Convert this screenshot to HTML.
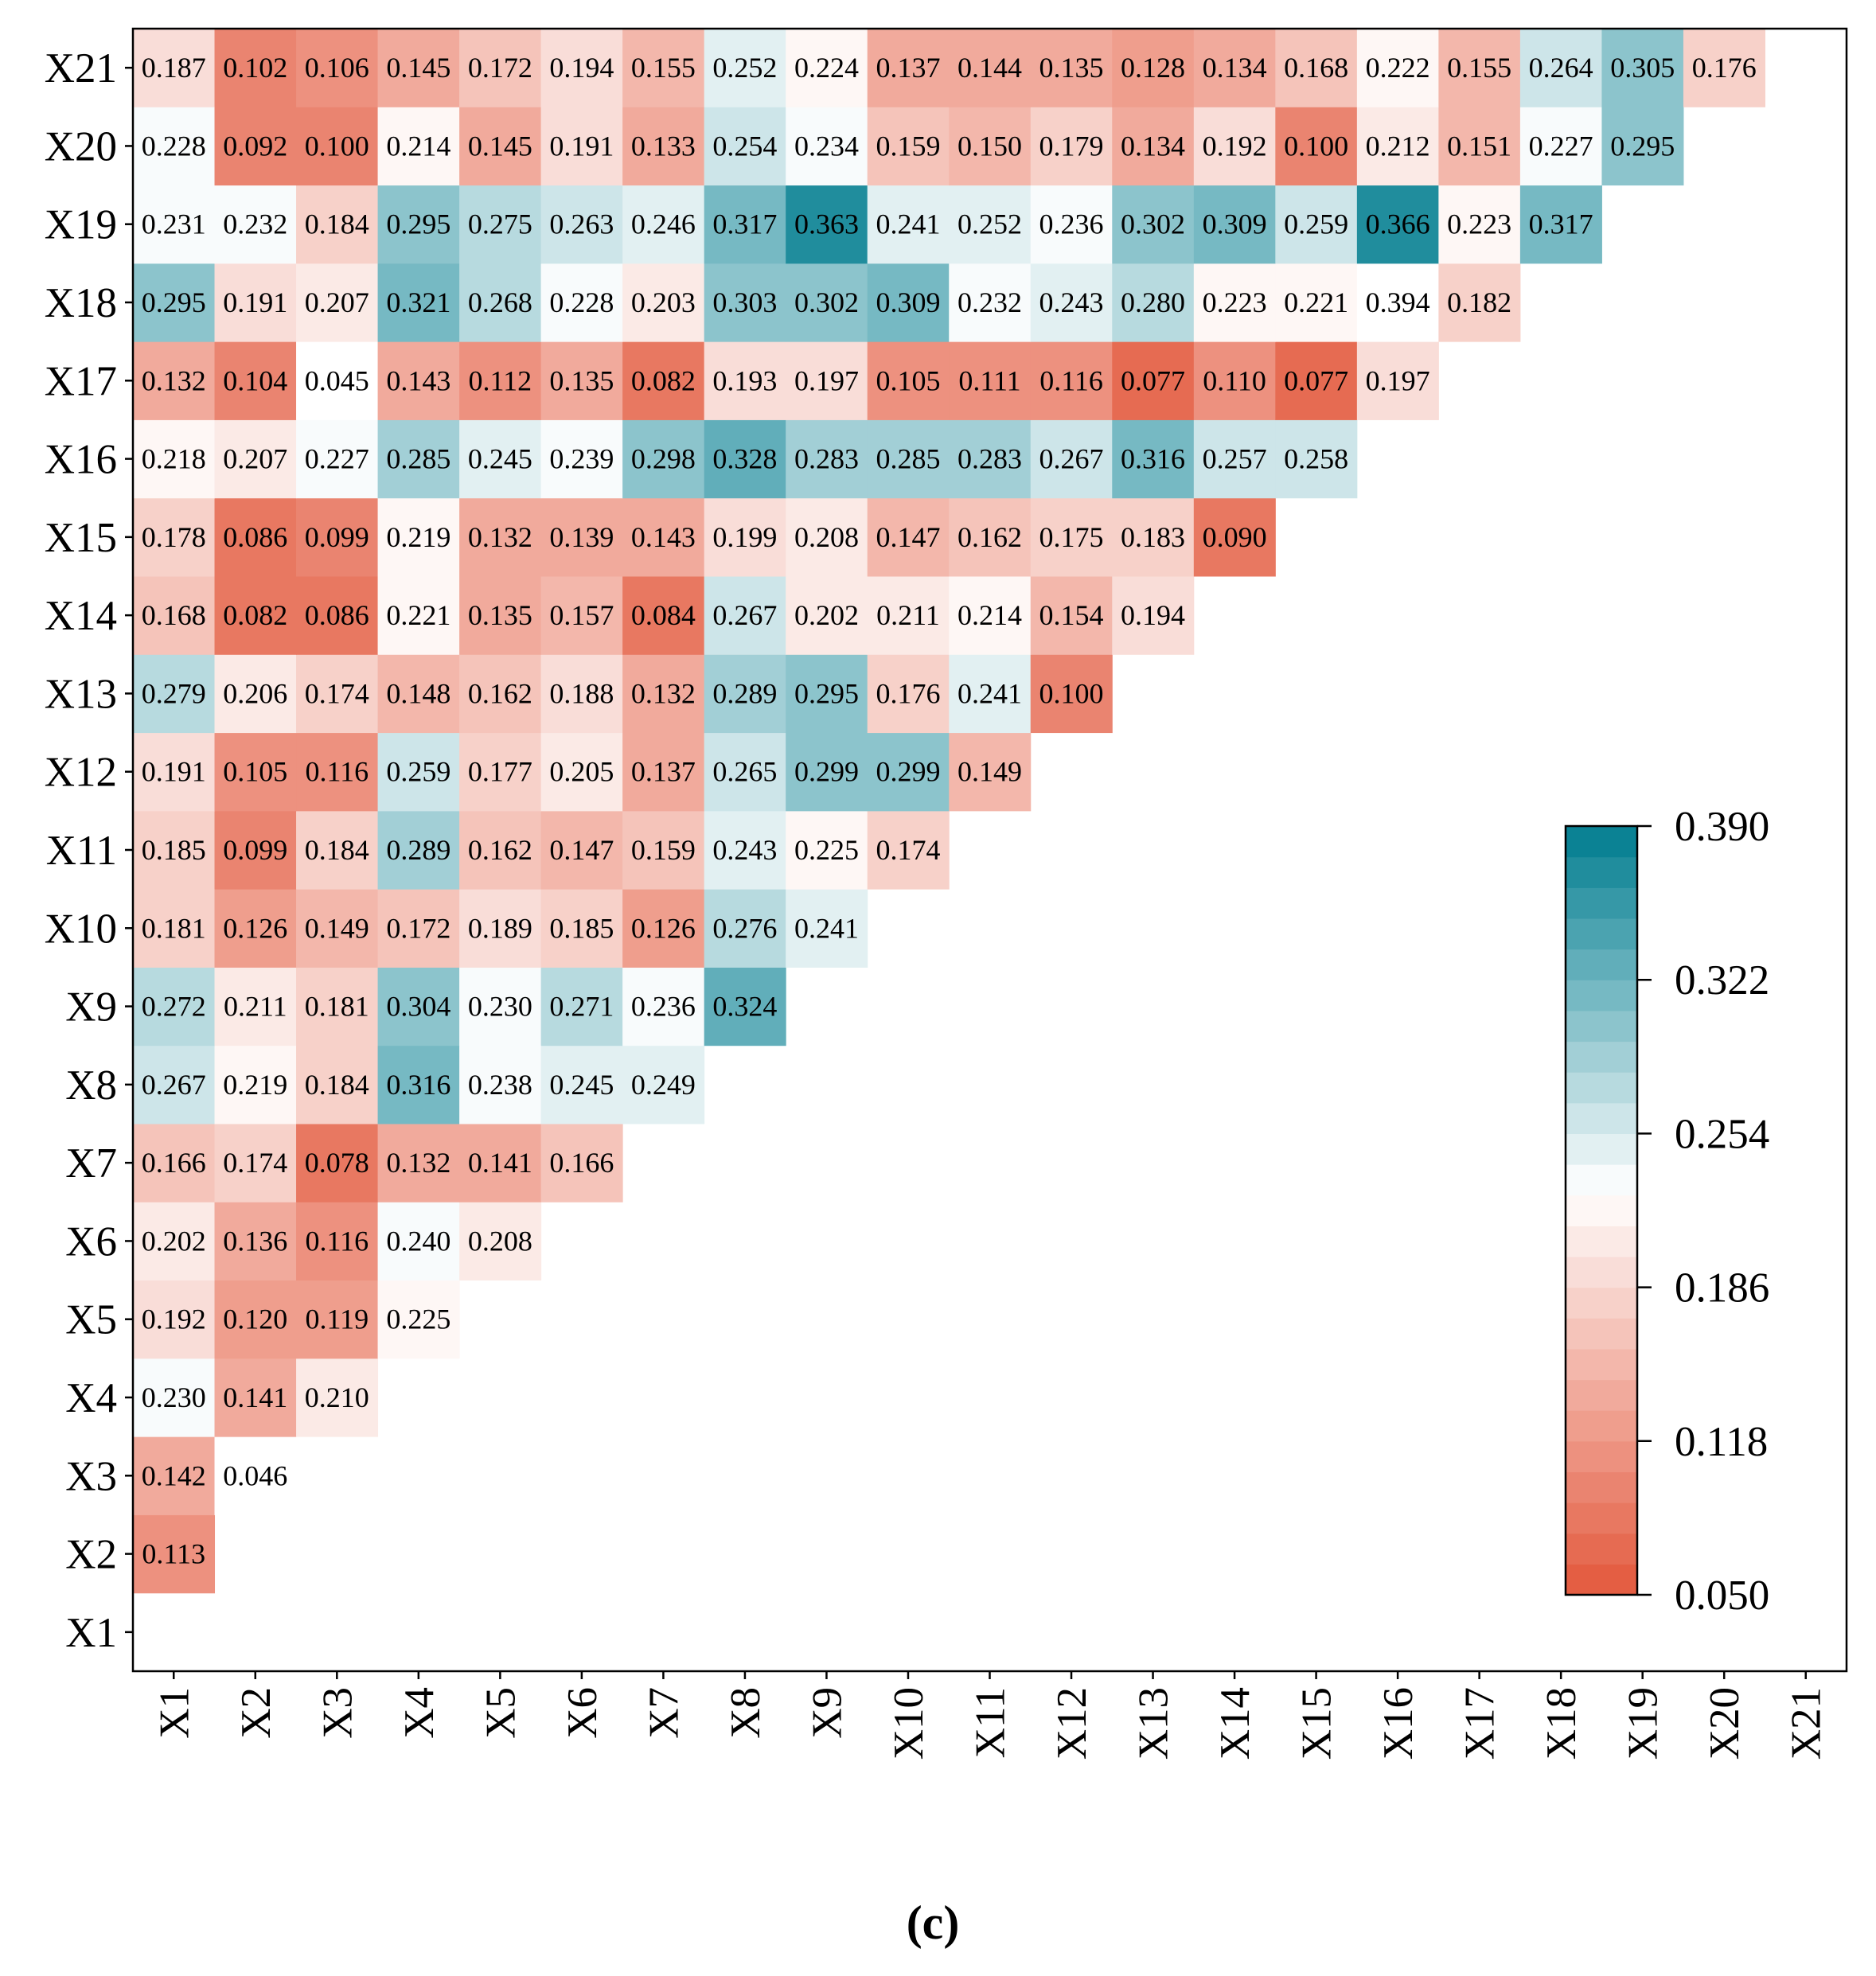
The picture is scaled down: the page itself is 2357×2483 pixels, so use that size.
<!DOCTYPE html>
<html><head><meta charset="utf-8"><style>
html,body{margin:0;padding:0;background:#fff}
svg{display:block}
text{font-family:"Liberation Serif",serif;fill:#000}
</style></head><body>
<svg id="chart" width="2357" height="2483" viewBox="0 0 2357 2483" xmlns="http://www.w3.org/2000/svg">
<g id="cells"></g>
<g id="axes"></g>
<g id="cbar"></g>
<text x="1172" y="2436" font-size="60" font-weight="bold" text-anchor="middle">(c)</text>
</svg>
<script>
const labels = ["X1","X2","X3","X4","X5","X6","X7","X8","X9","X10","X11","X12","X13","X14","X15","X16","X17","X18","X19","X20","X21"];
const r2=[0.113];
const r3=[0.142,0.046];
const r4=[0.230,0.141,0.210];
const r5=[0.192,0.120,0.119,0.225];
const r6=[0.202,0.136,0.116,0.240,0.208];
const r7=[0.166,0.174,0.078,0.132,0.141,0.166];
const r8=[0.267,0.219,0.184,0.316,0.238,0.245,0.249];
const r9=[0.272,0.211,0.181,0.304,0.230,0.271,0.236,0.324];
const r10=[0.181,0.126,0.149,0.172,0.189,0.185,0.126,0.276,0.241];
const r11=[0.185,0.099,0.184,0.289,0.162,0.147,0.159,0.243,0.225,0.174];
const r12=[0.191,0.105,0.116,0.259,0.177,0.205,0.137,0.265,0.299,0.299,0.149];
const r13=[0.279,0.206,0.174,0.148,0.162,0.188,0.132,0.289,0.295,0.176,0.241,0.100];
const r14=[0.168,0.082,0.086,0.221,0.135,0.157,0.084,0.267,0.202,0.211,0.214,0.154,0.194];
const r15=[0.178,0.086,0.099,0.219,0.132,0.139,0.143,0.199,0.208,0.147,0.162,0.175,0.183,0.090];
const r16=[0.218,0.207,0.227,0.285,0.245,0.239,0.298,0.328,0.283,0.285,0.283,0.267,0.316,0.257,0.258];
const r17=[0.132,0.104,0.045,0.143,0.112,0.135,0.082,0.193,0.197,0.105,0.111,0.116,0.077,0.110,0.077,0.197];
const r18=[0.295,0.191,0.207,0.321,0.268,0.228,0.203,0.303,0.302,0.309,0.232,0.243,0.280,0.223,0.221,0.394,0.182];
const r19=[0.231,0.232,0.184,0.295,0.275,0.263,0.246,0.317,0.363,0.241,0.252,0.236,0.302,0.309,0.259,0.366,0.223,0.317];
const r20=[0.228,0.092,0.100,0.214,0.145,0.191,0.133,0.254,0.234,0.159,0.150,0.179,0.134,0.192,0.100,0.212,0.151,0.227,0.295];
const r21=[0.187,0.102,0.106,0.145,0.172,0.194,0.155,0.252,0.224,0.137,0.144,0.135,0.128,0.134,0.168,0.222,0.155,0.264,0.305,0.176];
const rows=[[],r2,r3,r4,r5,r6,r7,r8,r9,r10,r11,r12,r13,r14,r15,r16,r17,r18,r19,r20,r21];
const cbTicks=["0.390","0.322","0.254","0.186","0.118","0.050"];
const vmin=0.05, vmax=0.39, nb=25;

const NS="http://www.w3.org/2000/svg";
const L=167,T=36,R=2320,B=2100;
const cw=(R-L)/21, ch=(B-T)/21;
const xc=i=>L+cw*(i+0.5);
const yc=i=>B-ch*(i+0.5);
function mk(tag,attrs,parent){const e=document.createElementNS(NS,tag);for(const k in attrs)e.setAttribute(k,attrs[k]);parent.appendChild(e);return e;}
const red=[227,88,60], wht=[255,255,255], teal=[0,125,143];
const wpos=0.229;
function color(v){
  if(v<vmin||v>vmax) return "#fff";
  let b=Math.floor((v-vmin)/(vmax-vmin)*nb); b=Math.max(0,Math.min(nb-1,b));
  const c=vmin+(b+0.5)*(vmax-vmin)/nb;
  let t,a,z;
  if(c<=wpos){t=(c-vmin)/(wpos-vmin);a=red;z=wht;}else{t=(c-wpos)/(vmax-wpos);a=wht;z=teal;}
  t=Math.max(0,Math.min(1,t));
  return "rgb("+a.map((x,i)=>Math.round(x+(z[i]-x)*t)).join(",")+")";
}
const cells=document.getElementById('cells');
rows.forEach((row,ri)=>{row.forEach((v,ci)=>{
  const r=mk('rect',{x:L+cw*ci,y:B-ch*(ri+1),width:cw+0.5,height:ch+0.5,fill:color(v)},cells);
  
  
  const t=mk('text',{x:xc(ci),y:yc(ri)+12,'font-size':36,'text-anchor':'middle'},cells);
  
  
  t.textContent=v.toFixed(3);
});});
const ax=document.getElementById('axes');
const fr=mk('rect',{x:L,y:T,width:R-L,height:B-T,fill:'none',stroke:'#000','stroke-width':2.5},ax);


labels.forEach((lb,i)=>{
  mk('line',{x1:L-10,x2:L,y1:yc(i),y2:yc(i),stroke:'#000','stroke-width':2.5},ax);
  const t=mk('text',{x:L-20,y:yc(i)+18,'font-size':53,'text-anchor':'end'},ax);
  
  
  t.textContent=lb;
  mk('line',{x1:xc(i),x2:xc(i),y1:B,y2:B+10,stroke:'#000','stroke-width':2.5},ax);
  const tx=mk('text',{x:0,y:0,'font-size':53,'text-anchor':'end',transform:'translate('+(xc(i)+18)+','+(B+20)+') rotate(-90)'},ax);
  
  
  tx.textContent=lb;
});
const cb=document.getElementById('cbar');
const cx0=1967,cx1=2057,cy0=1038,cy1=2004;
const bh=(cy1-cy0)/nb;
for(let b=0;b<nb;b++){
  const v=vmin+(b+0.5)*(vmax-vmin)/nb;
  const r=mk('rect',{x:cx0,y:cy1-bh*(b+1),width:cx1-cx0,height:bh+0.6,fill:color(v)},cb);
  
  
}
mk('rect',{x:cx0,y:cy0,width:cx1-cx0,height:cy1-cy0,fill:'none',stroke:'#000','stroke-width':2.5},cb);
cbTicks.forEach((s,i)=>{
  const v=parseFloat(s);
  const y=cy1-(v-vmin)/(vmax-vmin)*(cy1-cy0);
  mk('line',{x1:cx1,x2:cx1+18,y1:y,y2:y,stroke:'#000','stroke-width':2.5},cb);
  const t=mk('text',{x:cx1+47,y:y+18,'font-size':53},cb);
  
  
  t.textContent=s;
});
</script>
</body></html>
